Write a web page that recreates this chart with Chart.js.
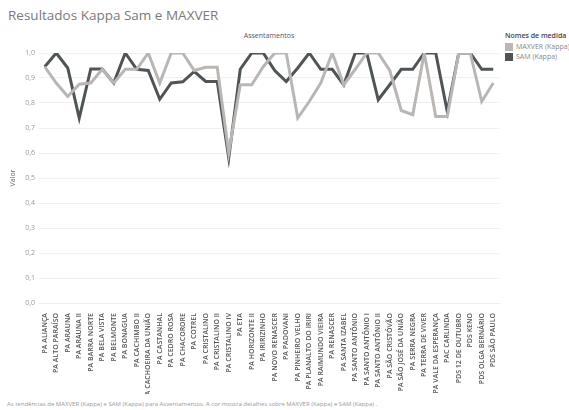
<!DOCTYPE html>
<html>
<head>
<meta charset="utf-8">
<script src="https://cdn.jsdelivr.net/npm/chart.js@4"></script>
<style>
    body { margin: 0; width: 569px; height: 410px; overflow: hidden; background: #fff; font-family: "Open Sans", sans-serif; position: relative; }
    #title { position: absolute; left: 8px; top: 6px; font-size: 13.5px; color: #7a7a7a; }
    #xhead { position: absolute; left: 0; width: 538px; top: 31px; text-align: center; font-size: 7px; color: #555; }
    #legend { position: absolute; left: 505px; top: 31px; font-size: 7px; color: #888; white-space: nowrap; }
    #legend b { color: #444; font-weight: 600; display: block; margin-bottom: 3px; }
    #legend div { height: 10px; line-height: 8px; }
    #legend span { display: inline-block; width: 8px; height: 8px; vertical-align: top; margin-right: 3px; }
    #footer { position: absolute; left: 7px; top: 400px; font-size: 6px; color: #999; white-space: nowrap; }
    #wrap { position: absolute; left: 0; top: 44px; width: 505px; height: 350px; }
</style>
</head>
<body>
<div id="title">Resultados Kappa Sam e MAXVER</div>
<div id="xhead">Assentamentos</div>
<div id="legend">
    <b>Nomes de medida</b>
    <div><span style="background:#bab6b4"></span>MAXVER (Kappa)</div>
    <div><span style="background:#4f5457"></span>SAM (Kappa)</div>
</div>
<div id="wrap"><canvas id="chartCanvas"></canvas></div>
<div id="footer">As tendências de MAXVER (Kappa) e SAM (Kappa)  para Assentamentos.  A cor mostra detalhes sobre MAXVER (Kappa) e SAM (Kappa) .</div>
<script>
const assentamentos = [
    "PA ALIANÇA", "PA ALTO PARAÍSO", "PA ARAUNA", "PA ARAUNA II", "PA BARRA NORTE",
    "PA BELA VISTA", "PA BELMONTE", "PA BONAGUA", "PA CACHIMBO II", "PA CACHOEIRA DA UNIÃO",
    "PA CASTANHAL", "PA CEDRO ROSA", "PA CHACORORE", "PA COTREL", "PA CRISTALINO",
    "PA CRISTALINO II", "PA CRISTALINO IV", "PA ETA", "PA HORIZONTE II", "PA IRIRIZINHO",
    "PA NOVO RENASCER", "PA PADOVANI", "PA PINHEIRO VELHO", "PA PLANALTO DO IRIRI", "PA RAIMUNDO VIEIRA",
    "PA RENASCER", "PA SANTA IZABEL", "PA SANTO ANTÔNIO", "PA SANTO ANTÔNIO I", "PA SANTO ANTÔNIO II",
    "PA SÃO CRISTÓVÃO", "PA SÃO JOSÉ DA UNIÃO", "PA SERRA NEGRA", "PA TERRA DE VIVER", "PA VALE DA ESPERANÇA",
    "PAC CARLINDA", "PDS 12 DE OUTUBRO", "PDS KENO", "PDS OLGA BERNÁRIO", "PDS SÃO PAULO"
];

const maxverKappa = [
    0.945, 0.88, 0.826, 0.875, 0.88, 0.935, 0.88, 0.935, 0.935, 1.0,
    0.88, 1.0, 1.0, 0.93, 0.943, 0.943, 0.6, 0.873, 0.873, 0.945,
    1.0, 1.0, 0.74, 0.806, 0.88, 1.0, 0.873, 0.935, 1.0, 1.0,
    0.93, 0.77, 0.753, 1.0, 0.746, 0.746, 1.0, 1.0, 0.806, 0.88
];

const samKappa = [
    0.945, 1.0, 0.94, 0.74, 0.936, 0.936, 0.88, 1.0, 0.935, 0.93,
    0.815, 0.88, 0.885, 0.926, 0.886, 0.886, 0.58, 0.935, 1.0, 1.0,
    0.93, 0.886, 0.94, 1.0, 0.935, 0.935, 0.873, 1.0, 1.0, 0.813,
    0.873, 0.935, 0.935, 1.0, 1.0, 0.766, 1.0, 1.0, 0.935, 0.935
];

const yTicks = [0, 0.1, 0.2, 0.3, 0.4, 0.5, 0.6, 0.7, 0.8, 0.9, 1.0];

new Chart(document.getElementById("chartCanvas"), {
    type: "line",
    data: {
        labels: assentamentos,
        datasets: [
            {
                label: "MAXVER (Kappa)",
                data: maxverKappa,
                borderColor: "#bab6b4",
                borderWidth: 3,
                pointRadius: 0,
                tension: 0
            },
            {
                label: "SAM (Kappa)",
                data: samKappa,
                borderColor: "#4f5457",
                borderWidth: 3,
                pointRadius: 0,
                tension: 0
            }
        ]
    },
    options: {
        responsive: true,
        maintainAspectRatio: false,
        animation: false,
        layout: { padding: { top: 9, right: 6 } },
        plugins: {
            legend: { display: false },
            tooltip: { enabled: false }
        },
        scales: {
            x: {
                offset: true,
                grid: { display: false },
                border: { color: "#eee" },
                afterFit: s => { s.height = 91; },
                ticks: {
                    autoSkip: false,
                    maxRotation: 90,
                    minRotation: 90,
                    padding: 2,
                    color: "#555",
                    font: { family: "Open Sans", size: 7, weight: "600" }
                }
            },
            y: {
                min: 0,
                max: 1,
                afterFit: s => { s.width = 39; },
                afterBuildTicks: s => { s.ticks = yTicks.map(v => ({ value: v })); },
                grid: { color: "#f0f0f0", drawTicks: false },
                border: { display: false },
                title: {
                    display: true,
                    text: "Valor",
                    color: "#666",
                    font: { family: "Open Sans", size: 7 },
                    padding: { top: 9, bottom: 0 }
                },
                ticks: {
                    color: "#999",
                    padding: 4,
                    font: { family: "Open Sans", size: 7 },
                    callback: v => v.toFixed(1).replace(".", ",")
                }
            }
        }
    }
});
</script>
</body>
</html>
